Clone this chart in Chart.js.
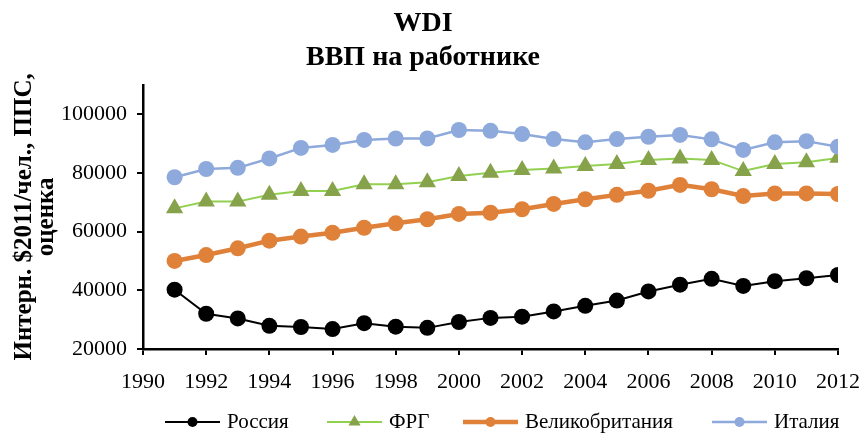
<!DOCTYPE html>
<html lang="ru">
<head>
    <meta charset="UTF-8">
    <title>WDI - ВВП на работника</title>
    <script src="https://cdn.jsdelivr.net/npm/chart.js"></script>
    <style>
        body {
            margin: 0;
            padding: 0;
            background: #fff;
        }
        #chart {
            display: block;
        }
    </style>
</head>
<body>
    <canvas id="chart" width="866" height="441"></canvas>
    <script>
        const years = [1991, 1992, 1993, 1994, 1995, 1996, 1997, 1998, 1999, 2000, 2001,
                       2002, 2003, 2004, 2005, 2006, 2007, 2008, 2009, 2010, 2011, 2012];
        const russia = [40200, 32000, 30400, 27900, 27500, 26800, 28800, 27600, 27200, 29200, 30600,
                        31000, 32800, 34700, 36500, 39600, 41900, 43900, 41500, 43100, 44100, 45200];
        const frg = [67900, 70200, 70200, 72500, 73800, 73800, 76100, 76100, 76800, 78900, 80000,
                     81000, 81500, 82300, 83000, 84400, 84900, 84400, 80600, 83000, 83600, 85100];
        const uk = [50000, 52000, 54300, 56900, 58300, 59600, 61300, 62800, 64200, 66000, 66400,
                    67600, 69400, 71000, 72500, 73900, 75900, 74400, 72100, 73000, 73000, 72800];
        const italy = [78500, 81300, 81700, 84900, 88500, 89500, 91200, 91700, 91700, 94600, 94300,
                       93200, 91500, 90400, 91500, 92300, 92900, 91400, 87800, 90400, 90800, 88900];
        const seriesNames = ['Россия', 'ФРГ', 'Великобритания', 'Италия'];
        const xTicks = [1990, 1992, 1994, 1996, 1998, 2000, 2002, 2004, 2006, 2008, 2010, 2012];
        const yTicks = [20000, 40000, 60000, 80000, 100000];

        const serif = "'Liberation Serif', 'Times New Roman', serif";

        function toPoints(values) {
            return values.map((v, i) => ({ x: years[i], y: v }));
        }

        // legend drawn by hand: line with marker in the middle, then the name
        const lineLegend = {
            id: 'lineLegend',
            afterDraw(chart) {
                const ctx = chart.ctx;
                const starts = [165, 327, 463, 712];
                const y = chart.height - 19;
                ctx.save();
                chart.data.datasets.forEach((ds, i) => {
                    const x0 = starts[i];
                    const x1 = x0 + 55;
                    ctx.strokeStyle = ds.borderColor;
                    ctx.lineWidth = ds.borderWidth;
                    ctx.beginPath();
                    ctx.moveTo(x0, y);
                    ctx.lineTo(x1, y);
                    ctx.stroke();
                    ctx.fillStyle = ds.pointBackgroundColor;
                    ctx.strokeStyle = ds.pointBackgroundColor;
                    Chart.helpers.drawPoint(ctx, {
                        pointStyle: ds.pointStyle,
                        radius: ds.pointStyle === 'triangle' ? 7 : 5,
                        rotation: 0,
                        borderWidth: 0
                    }, (x0 + x1) / 2, y);
                    ctx.fillStyle = '#000';
                    ctx.font = '21px ' + serif;
                    ctx.textBaseline = 'middle';
                    ctx.textAlign = 'left';
                    ctx.fillText(ds.label, x1 + 7, y);
                });
                ctx.restore();
            }
        };

        new Chart(document.getElementById('chart'), {
            type: 'line',
            data: {
                datasets: [
                    {
                        label: seriesNames[0], data: toPoints(russia), order: 3,
                        borderColor: '#000', borderWidth: 2,
                        pointStyle: 'circle', pointRadius: 8,
                        pointBackgroundColor: '#000', pointBorderColor: '#000', pointBorderWidth: 0
                    },
                    {
                        label: seriesNames[1], data: toPoints(frg), order: 2,
                        borderColor: '#92D050', borderWidth: 2,
                        pointStyle: 'triangle', pointRadius: 10,
                        pointBackgroundColor: '#86A24A', pointBorderColor: '#86A24A', pointBorderWidth: 0
                    },
                    {
                        label: seriesNames[2], data: toPoints(uk), order: 1,
                        borderColor: '#DF8139', borderWidth: 4.5,
                        pointStyle: 'circle', pointRadius: 8,
                        pointBackgroundColor: '#DF8139', pointBorderColor: '#DF8139', pointBorderWidth: 0
                    },
                    {
                        label: seriesNames[3], data: toPoints(italy), order: 0,
                        borderColor: '#8EA9DB', borderWidth: 2.5,
                        pointStyle: 'circle', pointRadius: 8,
                        pointBackgroundColor: '#8EA9DB', pointBorderColor: '#8EA9DB', pointBorderWidth: 0
                    }
                ]
            },
            options: {
                responsive: false,
                animation: false,
                layout: { padding: { left: 0, right: 20, top: 0, bottom: 0 } },
                plugins: {
                    legend: { display: false },
                    tooltip: { enabled: false },
                    title: {
                        display: true,
                        text: ['WDI', 'ВВП на работнике'],
                        color: '#000',
                        font: { family: serif, size: 28, weight: 'bold', lineHeight: 1.21 },
                        padding: { top: 7, bottom: 10 }
                    }
                },
                scales: {
                    x: {
                        type: 'linear',
                        min: 1990,
                        max: 2012,
                        afterBuildTicks: s => { s.ticks = xTicks.map(v => ({ value: v })); },
                        afterFit: s => { s.height = 92; s.paddingRight = 28; },
                        ticks: {
                            callback: v => String(v),
                            color: '#000',
                            font: { family: serif, size: 22 },
                            padding: 14,
                            maxRotation: 0,
                            autoSkip: false
                        },
                        grid: { display: true, drawOnChartArea: false, drawTicks: true, tickLength: 6, color: '#000', lineWidth: 2 },
                        border: { display: true, color: '#000', width: 2.5 }
                    },
                    y: {
                        min: 20000,
                        max: 110000,
                        afterBuildTicks: s => { s.ticks = yTicks.map(v => ({ value: v })); },
                        afterFit: s => { s.width = 143; },
                        ticks: {
                            callback: v => String(v),
                            color: '#000',
                            font: { family: serif, size: 22 },
                            padding: 10
                        },
                        grid: { display: true, drawOnChartArea: false, drawTicks: true, tickLength: 6, color: '#000', lineWidth: 2 },
                        border: { display: true, color: '#000', width: 2.5 },
                        title: {
                            display: true,
                            text: ['Интерн. $2011/чел., ППС,', 'оценка'],
                            color: '#000',
                            font: { family: serif, size: 25, weight: 'bold', lineHeight: 0.88 },
                            padding: { top: 14, bottom: 0 }
                        }
                    }
                }
            },
            plugins: [lineLegend]
        });
    </script>
</body>
</html>
